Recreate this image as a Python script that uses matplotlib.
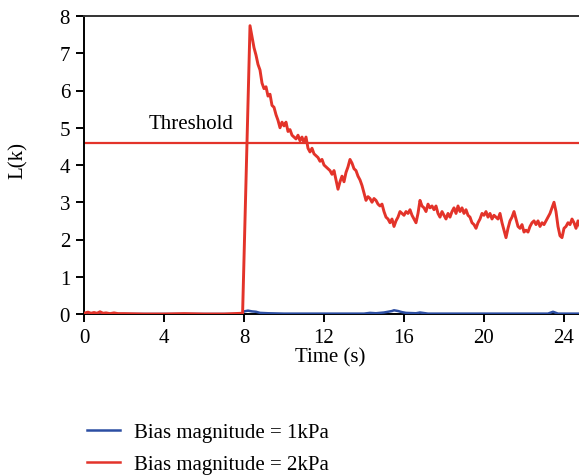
import matplotlib
matplotlib.use("Agg")
import matplotlib.pyplot as plt
from matplotlib.lines import Line2D

# red series (bias = 2kPa): flat part before the jump
t_red_pre = [0.0, 0.2, 0.35, 0.5, 0.65, 0.8, 0.95, 1.1, 1.3, 1.5, 1.7, 2.0, 3.0, 4.0, 5.0, 6.0, 7.0, 7.93]
v_red_pre = [0.02, 0.05, 0.02, 0.04, 0.02, 0.06, 0.02, 0.03, 0.01, 0.03, 0.01, 0.01, 0.0, 0.0, 0.01, 0.0, 0.0, 0.02]

# red series after the jump, one reading every 0.1 s from 8.3 s
t_red_start = 8.3
v_red = [7.74, 7.45, 7.15, 6.95, 6.70, 6.55, 6.20, 6.05, 6.10, 5.85,
         5.90, 5.60, 5.55, 5.35, 5.20, 5.00, 5.15, 5.05, 5.15, 4.90,
         4.95, 4.80, 4.75, 4.70, 4.80, 4.65, 4.75, 4.60, 4.75, 4.45,
         4.35, 4.45, 4.30, 4.25, 4.20, 4.10, 4.15, 4.00, 3.95, 3.90,
         3.85, 3.75, 3.85, 3.60, 3.35, 3.55, 3.70, 3.55, 3.80, 3.95,
         4.15, 4.05, 3.90, 3.85, 3.70, 3.60, 3.45, 3.25, 3.05, 3.15,
         3.10, 3.00, 3.10, 3.05, 2.95, 2.90, 2.95, 2.75, 2.60, 2.55,
         2.45, 2.55, 2.35, 2.50, 2.60, 2.75, 2.70, 2.65, 2.75, 2.70,
         2.80, 2.65, 2.55, 2.45, 2.70, 3.05, 2.90, 2.85, 2.75, 2.95,
         2.85, 2.90, 2.80, 2.90, 2.70, 2.60, 2.75, 2.65, 2.55, 2.70,
         2.60, 2.75, 2.85, 2.70, 2.90, 2.75, 2.85, 2.70, 2.80, 2.65,
         2.60, 2.45, 2.40, 2.30, 2.45, 2.55, 2.70, 2.65, 2.75, 2.60,
         2.70, 2.55, 2.65, 2.60, 2.55, 2.70, 2.45, 2.25, 2.05, 2.30,
         2.50, 2.60, 2.75, 2.55, 2.35, 2.30, 2.40, 2.20, 2.25, 2.20,
         2.35, 2.45, 2.50, 2.40, 2.50, 2.35, 2.45, 2.40, 2.50, 2.60,
         2.70, 2.85, 3.00, 2.75, 2.35, 2.10, 2.05, 2.30, 2.35, 2.45,
         2.40, 2.55, 2.45, 2.30, 2.50, 2.35]

# blue series (bias = 1kPa)
t_blue = [0.0, 7.9, 8.0, 8.2, 8.4, 8.6, 8.8, 9.2, 10.0, 12.0, 14.0, 14.3, 14.6, 15.0, 15.2,
          15.4, 15.5, 15.7, 15.9, 16.1, 16.6, 16.8, 17.2, 20.0, 23.2, 23.45, 23.7, 24.8]
v_blue = [0.0, 0.0, 0.07, 0.09, 0.07, 0.06, 0.03, 0.02, 0.01, 0.01, 0.01, 0.03, 0.02, 0.04, 0.06,
          0.08, 0.1, 0.08, 0.05, 0.03, 0.02, 0.04, 0.01, 0.01, 0.01, 0.06, 0.01, 0.01]

threshold = 4.6
x_ticks = [0, 4, 8, 12, 16, 20, 24]
y_ticks = [0, 1, 2, 3, 4, 5, 6, 7, 8]

RED = "#e3332a"
BLUE = "#2c4ea3"

plt.rcParams['font.family'] = ['Liberation Serif', 'DejaVu Serif']
plt.rcParams['font.size'] = 15

fig = plt.figure(figsize=(5.79, 4.77), dpi=100)
ax = fig.add_axes([84/579, 1-315/477, (579-84)/579, 298/477])

t_red_post = [round(t_red_start + 0.1*i, 2) for i in range(len(v_red))]
t_red = t_red_pre + t_red_post
v_red_all = v_red_pre + v_red

ax.plot(t_blue, v_blue, color=BLUE, lw=1.8, zorder=3)
ax.plot(t_red, v_red_all, color=RED, lw=2.1, zorder=4)
ax.axhline(threshold, color=RED, lw=1.6, zorder=2)
ax.text(5.35, threshold + 0.25, "Threshold", ha="center", va="bottom", fontsize=15)

ax.set_xlim(0, 24.75)
ax.set_ylim(0, 8)
ax.set_xticks(x_ticks)
ax.set_yticks(y_ticks)
ax.spines['right'].set_visible(False)
for s in ['left', 'bottom', 'top']:
    ax.spines[s].set_linewidth(1.4)
ax.spines['top'].set_color('#333333')
ax.tick_params(direction='out', length=6, width=1.4, pad=4)

ax.set_xlabel("Time (s)")
ax.xaxis.set_label_coords(0.497, -0.11)
ax.set_ylabel("L(k)")
ax.yaxis.set_label_coords(-0.113, 0.52)

handles = [Line2D([], [], color=BLUE, lw=1.8), Line2D([], [], color=RED, lw=1.8)]
fig.legend(handles, ["Bias magnitude = 1kPa", "Bias magnitude = 2kPa"],
           loc="upper left", bbox_to_anchor=(68/579, 1-405/477), frameon=False,
           handlelength=1.6, handletextpad=0.65, labelspacing=0.6, fontsize=15)

fig.savefig("out.png", dpi=100)
